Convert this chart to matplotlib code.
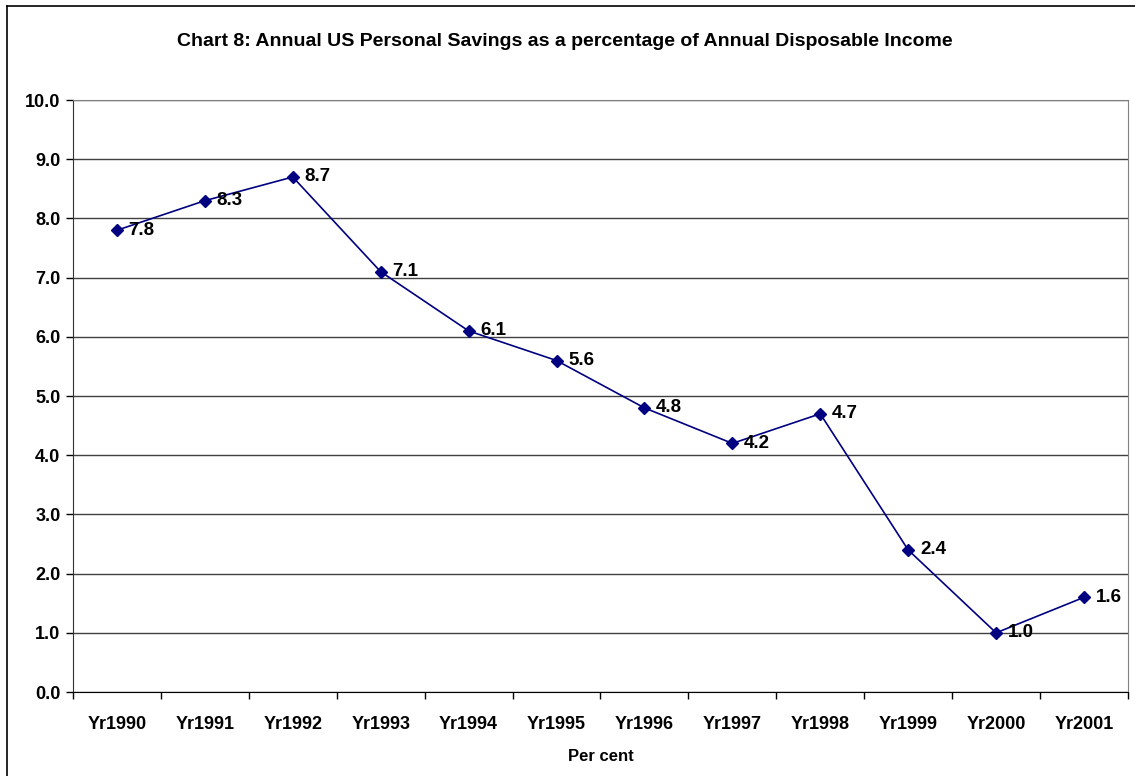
import matplotlib.pyplot as plt
from matplotlib.lines import Line2D
import numpy as np

plt.rcParams['font.family'] = ['Liberation Sans', 'DejaVu Sans']
plt.rcParams['font.weight'] = 'bold'

# annual personal savings rate, per cent of disposable income
years = ['Yr1990', 'Yr1991', 'Yr1992', 'Yr1993', 'Yr1994', 'Yr1995',
         'Yr1996', 'Yr1997', 'Yr1998', 'Yr1999', 'Yr2000', 'Yr2001']
savings = [7.8, 8.3, 8.7, 7.1, 6.1, 5.6, 4.8, 4.2, 4.7, 2.4, 1.0, 1.6]

fig = plt.figure(figsize=(11.35, 7.76), dpi=100)
ax = fig.add_axes([0.0643, 0.1082, 0.9295, 0.7629])

x = np.arange(len(years))
ax.plot(x, savings, color='#000080', lw=1.2, marker='D', ms=6.5,
        mfc='#000080', mec='#000080', zorder=3)
for xi, v in zip(x, savings):
    ax.annotate(f'{v:.1f}', (xi, v), xytext=(8.5, 0), textcoords='offset points',
                va='center', ha='left', fontsize=13.5, fontweight='bold')

ax.set_xlim(-0.5, len(years) - 0.5)
ax.set_ylim(0, 10)
ax.set_yticks(np.arange(0, 10.1, 1))
ax.set_yticklabels([f'{t:.1f}' for t in np.arange(0, 10.1, 1)])
ax.yaxis.grid(True, color='#404040', lw=1)
ax.set_axisbelow(True)

# labels sit at category centres, tick marks between categories
ax.set_xticks(x)
ax.set_xticklabels(years)
ax.set_xticks(np.arange(-0.5, len(years)), minor=True)
ax.tick_params(axis='x', which='major', length=0, pad=17, labelsize=13)
ax.tick_params(axis='x', which='minor', length=5, width=1, color='black')
ax.tick_params(axis='y', length=5, width=1, pad=4, labelsize=13)
ax.set_xlabel('Per cent', fontsize=12, fontweight='bold', labelpad=12)

ax.spines['left'].set_color('#333333')
ax.spines['bottom'].set_color('black')
ax.spines['top'].set_color('#808080')
ax.spines['right'].set_color('#808080')

fig.text(0.498, 0.947, 'Chart 8: Annual US Personal Savings as a percentage of Annual Disposable Income',
         ha='center', va='center', fontsize=14, fontweight='bold')

# chart area frame
fig.add_artist(Line2D([7 / 1135, 7 / 1135], [0, 1 - 6 / 776], color='black', lw=1.2))
fig.add_artist(Line2D([7 / 1135, 1], [1 - 6 / 776, 1 - 6 / 776], color='black', lw=1.2))

fig.savefig('out.png', dpi=100)
